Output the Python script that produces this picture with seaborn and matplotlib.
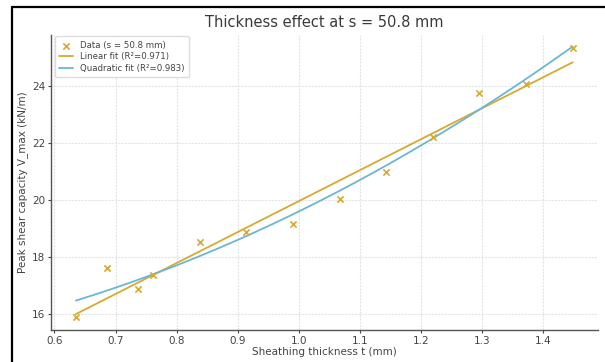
import numpy as np
import pandas as pd
import matplotlib
matplotlib.use("Agg")
import matplotlib.pyplot as plt
import seaborn as sns
from matplotlib.lines import Line2D

# --- DATA ---
thickness = [0.635, 0.686, 0.737, 0.762, 0.838, 0.914, 0.991,
             1.067, 1.143, 1.219, 1.295, 1.372, 1.448]
v_max = [15.90, 17.60, 16.88, 17.36, 18.52, 18.88, 19.17,
         20.02, 20.98, 22.22, 23.74, 24.09, 25.32]

DATA_LABEL = "Data (s = 50.8 mm)"
LIN_LABEL = "Linear fit (R²=0.971)"
QUAD_LABEL = "Quadratic fit (R²=0.983)"

GOLD = "#d9a92f"
BLUE = "#6bb6d6"

df = pd.DataFrame({"t": thickness, "v": v_max})

# fits
t_grid = np.linspace(min(thickness), max(thickness), 200)
lin = np.polyval(np.polyfit(df["t"], df["v"], 1), t_grid)
quad = np.polyval(np.polyfit(df["t"], df["v"], 2), t_grid)
fits = pd.DataFrame({"t": t_grid, "lin": lin, "quad": quad})

sns.set_style("whitegrid", {"grid.color": "#e4e4e4", "grid.linestyle": (0, (2, 1))})
plt.rcParams["font.family"] = ["DejaVu Sans"]

fig = plt.figure(figsize=(6.05, 3.62), dpi=100)
ax = fig.add_axes([0.084, 0.088, 0.904, 0.815])

sns.scatterplot(data=df, x="t", y="v", marker="x", color=GOLD, s=20,
                linewidth=1.2, ax=ax, label=DATA_LABEL, zorder=3)
sns.lineplot(data=fits, x="t", y="lin", color=GOLD, lw=1.3, ax=ax, label=LIN_LABEL)
sns.lineplot(data=fits, x="t", y="quad", color=BLUE, lw=1.3, ax=ax, label=QUAD_LABEL)

ax.set_xlim(0.594, 1.489)
ax.set_ylim(15.43, 25.79)
ax.set_xticks([0.6, 0.7, 0.8, 0.9, 1.0, 1.1, 1.2, 1.3, 1.4])
ax.set_yticks([16, 18, 20, 22, 24])
ax.tick_params(labelsize=7.5, colors="#444444", length=2.5, pad=1.5,
               direction="out", left=True, bottom=True)
for side in ["top", "right"]:
    ax.spines[side].set_visible(False)
for side in ["left", "bottom"]:
    ax.spines[side].set_color("#555555")
    ax.spines[side].set_linewidth(1.0)

ax.set_xlabel("Sheathing thickness t (mm)", fontsize=7.5, color="#444444", labelpad=1)
ax.set_ylabel("Peak shear capacity V_max (kN/m)", fontsize=7.5, color="#444444", labelpad=3)
ax.set_title("Thickness effect at s = 50.8 mm", fontsize=10.5, color="#3a3a3a", pad=6)

leg = ax.legend(loc="upper left", fontsize=6.2, frameon=True, framealpha=1,
                edgecolor="#dddddd", borderpad=0.5, handlelength=1.6,
                labelspacing=0.3, bbox_to_anchor=(0.0, 1.01))
for txt in leg.get_texts():
    txt.set_color("#444444")

# black screenshot border on left and top
fig.add_artist(Line2D([12 / 605, 12 / 605], [0, 1 - 7 / 362], color="black", lw=1.6,
                      transform=fig.transFigure))
fig.add_artist(Line2D([12 / 605, 1], [1 - 7 / 362, 1 - 7 / 362], color="black", lw=1.6,
                      transform=fig.transFigure))

fig.savefig("out.png", dpi=100)
